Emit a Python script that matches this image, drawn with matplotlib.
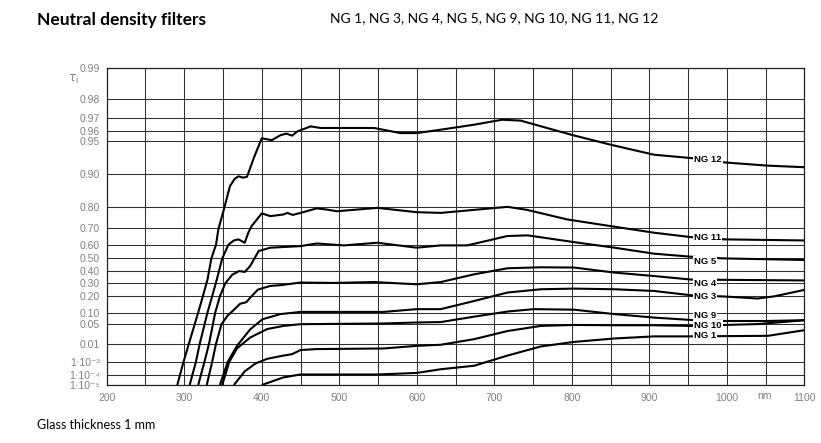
import numpy as np
import matplotlib
matplotlib.use('Agg')
import matplotlib.pyplot as plt

# transmittance curves (wavelength in nm, internal transmittance)
wl_ng12 = [291, 299, 306, 318, 324, 330, 335, 341, 344, 351, 359, 365, 370, 376, 381, 390, 400, 413, 424, 432,
           439, 446, 463, 476, 545, 579, 600, 631, 674, 710, 734, 799, 850, 906, 954, 997, 1053, 1100]
tau_ng12 = [1e-5, 1e-3, 0.01, 0.1, 0.2, 0.33, 0.5, 0.6, 0.695, 0.79, 0.87, 0.888, 0.894, 0.891, 0.893, 0.929, 0.953,
            0.951, 0.956, 0.9575, 0.9556, 0.9595, 0.9637, 0.9624, 0.9624, 0.958, 0.958, 0.961, 0.965, 0.9686, 0.968,
            0.9565, 0.946, 0.933, 0.928, 0.921, 0.9154, 0.9125]

wl_ng11 = [307, 315, 320, 330, 336, 342, 349, 357, 364, 370, 378, 383, 387, 400, 411, 428, 433, 440, 450, 471,
           484, 497, 549, 600, 631, 717, 742, 794, 850, 906, 954, 997, 1100]
tau_ng11 = [1e-5, 1e-3, 0.01, 0.1, 0.2, 0.33, 0.5, 0.6, 0.628, 0.635, 0.613, 0.68, 0.713, 0.775, 0.7625, 0.77,
            0.777, 0.768, 0.777, 0.796, 0.791, 0.784, 0.798, 0.78, 0.777, 0.802, 0.79, 0.747, 0.713, 0.676, 0.649,
            0.635, 0.628]

wl_ng5 = [318, 326, 332, 340, 346, 353, 362, 371, 378, 385, 396, 411, 450, 471, 506, 549, 600, 631, 665, 717,
          743, 803, 855, 906, 954, 997, 1100]
tau_ng5 = [1e-5, 1e-3, 0.01, 0.1, 0.2, 0.3, 0.37, 0.40, 0.392, 0.44, 0.555, 0.579, 0.59, 0.608, 0.595, 0.613,
           0.579, 0.595, 0.595, 0.656, 0.66, 0.617, 0.579, 0.536, 0.513, 0.5, 0.488]

wl_ng4 = [329, 336, 341, 348, 356, 363, 372, 380, 385, 395, 411, 424, 450, 493, 545, 600, 631, 674, 717, 760,
          803, 855, 906, 954, 1100]
tau_ng4 = [1e-5, 1e-3, 0.01, 0.05, 0.085, 0.11, 0.15, 0.16, 0.19, 0.25, 0.279, 0.285, 0.306, 0.303, 0.31, 0.292,
           0.31, 0.373, 0.422, 0.43, 0.428, 0.387, 0.359, 0.33, 0.323]

wl_ng3 = [346, 356, 368, 385, 401, 424, 450, 514, 557, 600, 631, 674, 717, 760, 803, 855, 906, 954, 997, 1040,
          1061, 1100]
tau_ng3 = [1e-5, 1e-3, 0.008, 0.035, 0.069, 0.092, 0.103, 0.103, 0.103, 0.118, 0.118, 0.168, 0.228, 0.253, 0.258,
           0.253, 0.24, 0.208, 0.199, 0.185, 0.2, 0.248]

wl_ng9 = [349, 358, 368, 385, 407, 428, 450, 557, 600, 631, 674, 717, 751, 803, 855, 906, 954, 997, 1050, 1100]
tau_ng9 = [1e-5, 1e-3, 0.006, 0.018, 0.036, 0.045, 0.0506, 0.053, 0.0565, 0.058, 0.08, 0.105, 0.118, 0.115,
           0.092, 0.076, 0.066, 0.062, 0.062, 0.065]

wl_ng10 = [364, 378, 392, 407, 428, 439, 450, 471, 557, 600, 631, 674, 717, 760, 803, 855, 906, 954, 997, 1040, 1100]
tau_ng10 = [1e-5, 2e-4, 8e-4, 0.0016, 0.0025, 0.003, 0.005, 0.0056, 0.006, 0.008, 0.009, 0.0156, 0.031, 0.045,
            0.048, 0.047, 0.047, 0.045, 0.048, 0.051, 0.065]

wl_ng1 = [400, 428, 450, 549, 600, 631, 674, 717, 760, 803, 855, 906, 954, 1053, 1100]
tau_ng1 = [1e-5, 6e-5, 1.1e-4, 1.1e-4, 1.5e-4, 3e-4, 5.5e-4, 0.0025, 0.0075, 0.012, 0.0166, 0.02, 0.02, 0.021, 0.033]

y_ticks = [0.99, 0.98, 0.97, 0.96, 0.95, 0.90, 0.80, 0.70, 0.60, 0.50, 0.40, 0.30, 0.20, 0.10, 0.05, 0.01,
           1e-3, 1e-4, 1e-5]
y_labels = ['0.99', '0.98', '0.97', '0.96', '0.95', '0.90', '0.80', '0.70', '0.60', '0.50', '0.40', '0.30',
            '0.20', '0.10', '0.05', '0.01', '1·10⁻³', '1·10⁻⁴', '1·10⁻⁵']
x_ticks = [200, 300, 400, 500, 600, 700, 800, 900, 1000, 1100]

curves = [('NG 12', wl_ng12, tau_ng12), ('NG 11', wl_ng11, tau_ng11), ('NG 5', wl_ng5, tau_ng5),
          ('NG 4', wl_ng4, tau_ng4), ('NG 3', wl_ng3, tau_ng3), ('NG 9', wl_ng9, tau_ng9),
          ('NG 10', wl_ng10, tau_ng10), ('NG 1', wl_ng1, tau_ng1)]

# where the curve names sit (transmittance level at the label)
label_y = {'NG 12': 0.926, 'NG 11': 0.647, 'NG 5': 0.477, 'NG 4': 0.296, 'NG 3': 0.197,
           'NG 9': 0.084, 'NG 10': 0.0457, 'NG 1': 0.0214}


# Schott style ordinate: theta = -log10(-log10(tau))
def fwd(t):
    t = np.clip(np.asarray(t, dtype=float), 1e-30, 1 - 1e-12)
    return -np.log10(-np.log10(t))


def inv(v):
    return 10.0 ** (-(10.0 ** (-np.asarray(v, dtype=float))))


fig = plt.figure(figsize=(8.21, 4.43), dpi=100)
ax = fig.add_axes([0.130, 0.1309, 0.8497, 0.7163])
ax.set_yscale('function', functions=(fwd, inv))

for name, wl, tau in curves:
    ax.plot(wl, tau, color='black', lw=1.5, zorder=3, solid_capstyle='butt', solid_joinstyle='round')

for name, ty in label_y.items():
    ax.text(958, ty, name, fontsize=6.8, fontweight='bold', family='Liberation Sans', ha='left', va='center',
            zorder=4, bbox=dict(facecolor='white', edgecolor='none', pad=0.6))

ax.set_xlim(200, 1100)
ax.set_ylim(1e-5, 0.99)
ax.set_xticks(x_ticks)
ax.set_xticks(np.arange(250, 1100, 100), minor=True)
ax.set_yticks(y_ticks)
ax.set_yticklabels(y_labels, family=['Liberation Sans', 'DejaVu Sans'])
ax.set_xticklabels([str(v) for v in x_ticks], family='Liberation Sans')
ax.yaxis.set_minor_locator(matplotlib.ticker.NullLocator())
ax.tick_params(which='both', length=0, labelsize=7.5, labelcolor='#808080')
ax.tick_params(axis='x', pad=6)
ax.tick_params(axis='y', pad=5)
ax.grid(True, which='both', color='#303030', lw=0.75)
ax.set_axisbelow(True)
for s in ax.spines.values():
    s.set_color('#222222')
    s.set_linewidth(0.9)

ax.text(1048, -0.035, 'nm', transform=ax.get_xaxis_transform(), fontsize=7.5, color='#808080',
        family='Liberation Sans', ha='center', va='center')
fig.text(68 / 821, 1 - 79 / 443, r'$\tau_\mathrm{i}$', fontsize=8.5, color='#808080', ha='left', va='center')

fig.text(37 / 821, 1 - 20 / 443, 'Neutral density filters', fontsize=12.5, fontweight='bold', family='Lato',
         va='center', ha='left')
fig.text(330 / 821, 1 - 18 / 443, 'NG 1, NG 3, NG 4, NG 5, NG 9, NG 10, NG 11, NG 12', fontsize=10, family='Lato',
         va='center', ha='left')
fig.text(37 / 821, 1 - 425 / 443, 'Glass thickness 1 mm', fontsize=9, family='Lato', va='center', ha='left')

fig.savefig('out.png', dpi=100)
